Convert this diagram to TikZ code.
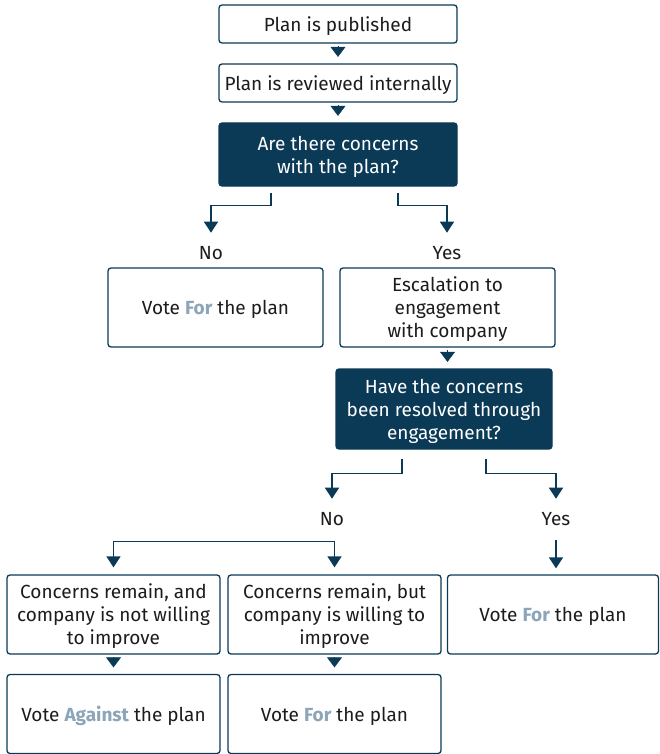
\documentclass[tikz,border=0pt]{standalone}
\usepackage{fontspec}
\setmainfont{Fira Sans}
\usetikzlibrary{arrows.meta, positioning, calc}
\definecolor{navy}{HTML}{0B3A57}
\definecolor{ink}{HTML}{1C1C1C}
\definecolor{soft}{HTML}{8CA5B8}
\tikzset{
  font=\fontsize{19}{23}\selectfont,
  %
  box/.style={
    draw=navy, line width=1.3pt, fill=white, rounded corners=3pt,
    inner sep=0pt, align=center, text=ink, text depth=0pt,
  },
  boxq/.style={box, fill=navy, text=white},
  %
  tip/.style={draw=navy, line width=0.4pt, -{Triangle[length=10pt, width=15pt]},
              shorten <=2.5pt, shorten >=6.5pt},
  leg/.style={draw=navy, line width=1.5pt, -{Triangle[length=11pt, width=14pt]}},
  legs/.style={draw=navy, line width=1.5pt,
               {Triangle[length=11pt, width=14pt]}-{Triangle[length=11pt, width=14pt]},
               shorten <=7pt, shorten >=7pt},
  %
  lbl/.style={text=ink, inner sep=0pt, anchor=base},
}
\newcommand{\voteword}[1]{\textcolor{soft}{\bfseries #1}}

\begin{document}
\begin{tikzpicture}[x=1pt, y=-1pt]
\useasboundingbox (0,0) rectangle (659,754);

% =========================================================================
\node[box, minimum width=238pt, minimum height=38pt] (pub) at (338,24) {Plan is published};
\node[box, minimum width=238pt, minimum height=38pt] (rev) at (338,83) {Plan is reviewed internally};
\node[boxq, minimum width=238pt, minimum height=63pt] (q1) at (338,154.5)
  {Are there concerns\\with the plan?};
\draw[tip] (pub) -- (rev);
\draw[tip] (rev) -- (q1);

\node[lbl] (no1) at (211,259) {No};
\node[lbl] (yes1) at (447,259) {Yes};
\draw[leg, shorten <=6pt, shorten >=13pt] ([xshift=-67pt]q1.south) -- ++(0,19) -| (no1.north);
\draw[leg, shorten <=6pt, shorten >=13pt] ([xshift=60pt]q1.south) -- ++(0,19) -| (yes1.north);

% =========================================================================
\node[box, minimum width=215pt, minimum height=79pt] (vfor1) at (215.5,307.5)
  {Vote \voteword{For} the plan};
\node[box, minimum width=215pt, minimum height=79pt] (esc) at (447.5,307.5)
  {Escalation to\\engagement\\with company};
\node[boxq, minimum width=216pt, minimum height=80pt] (q2) at (444,409)
  {Have the concerns\\been resolved through\\engagement?};
\draw[tip] (esc) -- (esc |- q2.north);

\node[lbl] (no2) at (332,525) {No};
\node[lbl] (yes2) at (556,525) {Yes};
\draw[leg, shorten <=9pt, shorten >=13pt] ([xshift=-42pt]q2.south) -- ++(0,24) -| (no2.north);
\draw[leg, shorten <=9pt, shorten >=13pt] ([xshift=42pt]q2.south) -- ++(0,24) -| (yes2.north);

% =========================================================================
\node[box, minimum width=213pt, minimum height=79pt] (remno) at (113.5,614.5)
  {Concerns remain, and\\company is not willing\\to improve};
\node[box, minimum width=213pt, minimum height=79pt] (remyes) at (334.5,614.5)
  {Concerns remain, but\\company is willing to\\improve};
\node[box, minimum width=211pt, minimum height=79pt] (vfor2) at (553,614.5)
  {Vote \voteword{For} the plan};
\draw[legs] (remno.north) -- ++(0,-33) -| (remyes.north);
\draw[leg, shorten <=15pt, shorten >=6pt] (yes2.south) -- (yes2.south |- vfor2.north);

\node[box, minimum width=213pt, minimum height=79pt] (vagainst) at (113.5,714)
  {Vote \voteword{Against} the plan};
\node[box, minimum width=213pt, minimum height=79pt] (vfor3) at (334.5,714)
  {Vote \voteword{For} the plan};
\draw[tip] (remno) -- (vagainst);
\draw[tip] (remyes) -- (vfor3);

\end{tikzpicture}
\end{document}
